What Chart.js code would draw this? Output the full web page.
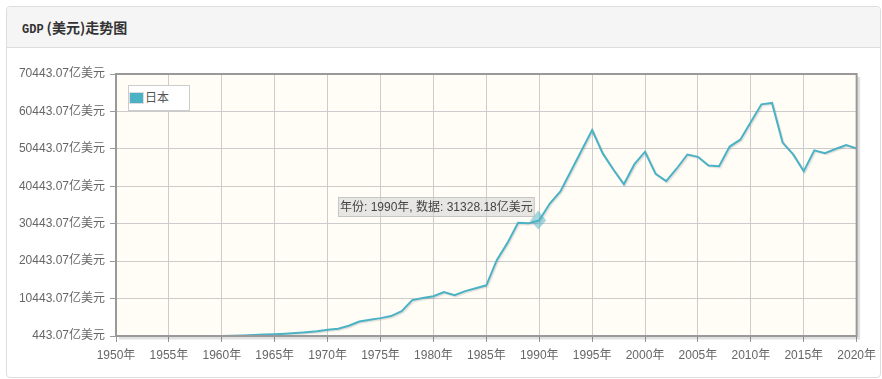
<!DOCTYPE html>
<html><head><meta charset="utf-8">
<script src="https://cdn.jsdelivr.net/npm/chart.js@4.4.1/dist/chart.umd.min.js"></script>
<style>
html,body{margin:0;padding:0;background:#fff;width:882px;height:379px;overflow:hidden;}
#card{position:absolute;left:6px;top:6px;width:875px;height:372px;border:1px solid #ddd;border-radius:4px;box-sizing:border-box;}
#head{height:41px;background:#f5f5f5;border-bottom:1px solid #ddd;border-radius:4px 4px 0 0;box-sizing:border-box;padding-left:15px;line-height:40px;font-weight:bold;color:#333;font-size:14px;font-family:"Noto Sans CJK SC",sans-serif;}
#head .en{font-family:"Liberation Mono",monospace;font-size:12px;margin-right:3px;}
#c{position:absolute;left:0;top:0;}
#legend{position:absolute;left:128px;top:85px;width:62px;height:26px;border:1px solid #ccc;background:#fff;box-sizing:border-box;z-index:2;}
#legend .sw{position:absolute;left:0;top:6px;width:13px;height:10px;border:1px solid #ddd;background:#4bb2c5;}
#legend .t{position:absolute;left:16px;top:3px;font-size:12px;line-height:16px;color:#555;font-family:"Noto Sans CJK SC",sans-serif;}
</style></head>
<body>
<div id="card"><div id="head"><span class="en">GDP</span>(美元)走势图</div></div>
<canvas id="c" width="882" height="379"></canvas>
<div id="legend"><div class="sw"></div><div class="t">日本</div></div>
<script>
const seriesName = '日本';
const years = [];
for (let y = 1960; y <= 2020; y++) years.push(y);
const gdp = [
  443.07, 535.09, 607.23, 695.0, 817.49, 909.50, 1056.28, 1238.18, 1466.01, 1722.04,
  2126.09, 2401.52, 3184.0, 4320.86, 4796.26, 5215.42, 5765.26, 7094.20, 10035.28, 10569.50,
  11054.0, 12180.0, 11345.0, 12436.0, 13186.0, 13985.0, 20786.0, 25322.0, 30719.0, 30548.0,
  31328.18, 35846.0, 39088.0, 44545.0, 49986.0, 55456.0, 49231.0, 44923.0, 40980.0, 46352.0,
  49683.0, 43749.0, 41822.0, 45198.0, 48931.0, 48313.0, 46014.0, 45793.0, 51060.0, 52894.0,
  57590.0, 62331.0, 62722.0, 52122.0, 48965.0, 44449.0, 50036.0, 49309.0, 50409.0, 51488.0,
  50578.0
];
const xTicks = [1950,1955,1960,1965,1970,1975,1980,1985,1990,1995,2000,2005,2010,2015,2020];
const yTicks = [443.07,10443.07,20443.07,30443.07,40443.07,50443.07,60443.07,70443.07];
const tooltipYear = 1990;

const FONT = '"Liberation Sans","Noto Sans CJK SC",sans-serif';

const decor = {
  id: 'decor',
  beforeDraw(chart) {
    const {ctx, chartArea: a} = chart;
    ctx.save();
    ctx.fillStyle = '#fffdf6';
    ctx.fillRect(a.left, a.top, a.right - a.left, a.bottom - a.top);
    ctx.restore();
  },
  beforeDatasetDraw(chart) {
    const ctx = chart.ctx;
    ctx.save();
    ctx.shadowColor = 'rgba(0,0,0,0.12)';
    ctx.shadowOffsetX = 1.2;
    ctx.shadowOffsetY = 1.2;
    ctx.shadowBlur = 1;
  },
  afterDatasetDraw(chart) { chart.ctx.restore(); },
  afterDraw(chart) {
    const {ctx, chartArea: a} = chart;
    ctx.save();
    ctx.strokeStyle = 'rgba(0,0,0,0.12)';
    ctx.lineWidth = 3;
    ctx.beginPath();
    ctx.moveTo(a.left + 3, a.bottom + 2);
    ctx.lineTo(a.right + 2, a.bottom + 2);
    ctx.lineTo(a.right + 2, a.top + 3);
    ctx.stroke();
    ctx.strokeStyle = '#999';
    ctx.lineWidth = 2;
    ctx.strokeRect(a.left, a.top, a.right - a.left, a.bottom - a.top);
    const xs = chart.scales.x, ys = chart.scales.y;
    const i = years.indexOf(tooltipYear);
    const px = xs.getPixelForValue(years[i]);
    const py = ys.getPixelForValue(gdp[i]);
    ctx.fillStyle = 'rgba(75,178,197,0.5)';
    ctx.beginPath();
    ctx.moveTo(px - 1, py - 10);
    ctx.lineTo(px + 7, py);
    ctx.lineTo(px - 1, py + 9);
    ctx.lineTo(px - 9, py);
    ctx.closePath();
    ctx.fill();
    const text = '年份: ' + years[i] + '年, 数据: ' + gdp[i].toFixed(2) + '亿美元';
    ctx.font = '12px ' + FONT;
    const w = ctx.measureText(text).width + 4;
    const h = 20;
    const bx = Math.round(px - 4 - w), by = Math.round(py - 3 - h);
    ctx.fillStyle = 'rgba(208,208,208,0.5)';
    ctx.fillRect(bx, by, w, h);
    ctx.strokeStyle = 'rgba(190,190,190,0.8)';
    ctx.lineWidth = 1;
    ctx.strokeRect(bx + 0.5, by + 0.5, w - 1, h - 1);
    ctx.fillStyle = '#444';
    ctx.textBaseline = 'middle';
    ctx.fillText(text, bx + 2, by + h / 2 + 1);
    ctx.restore();
  }
};

new Chart(document.getElementById('c'), {
  type: 'line',
  data: {
    datasets: [{
      label: seriesName,
      data: years.map((y, k) => ({x: y, y: gdp[k]})),
      borderColor: '#4bb2c5',
      borderWidth: 2,
      pointRadius: 0,
      tension: 0,
      fill: false
    }]
  },
  options: {
    responsive: false,
    animation: false,
    devicePixelRatio: 1,
    layout: {padding: {left: 0, top: 74, right: 24, bottom: 0}},
    plugins: {legend: {display: false}, tooltip: {enabled: false}},
    scales: {
      x: {
        type: 'linear', min: 1950, max: 2020,
        afterBuildTicks(s) { s.ticks = xTicks.map(v => ({value: v})); },
        afterFit(s) { s.height = 43; },
        border: {display: false},
        grid: {color: '#cccccc', tickColor: '#999', tickLength: 6, lineWidth: 1},
        ticks: {
          color: '#666', font: {size: 12, family: FONT}, padding: 6, maxRotation: 0, autoSkip: false,
          callback: v => v + '年'
        }
      },
      y: {
        type: 'linear', min: yTicks[0], max: yTicks[yTicks.length - 1],
        afterBuildTicks(s) { s.ticks = yTicks.map(v => ({value: v})); },
        afterFit(s) { s.width = 116; },
        border: {display: false},
        grid: {color: '#cccccc', tickColor: '#999', tickLength: 6, lineWidth: 1},
        ticks: {
          color: '#666', font: {size: 12, family: FONT}, padding: 5, autoSkip: false,
          callback: v => Number(v).toFixed(2) + '亿美元'
        }
      }
    }
  },
  plugins: [decor]
});
</script>
</body></html>
